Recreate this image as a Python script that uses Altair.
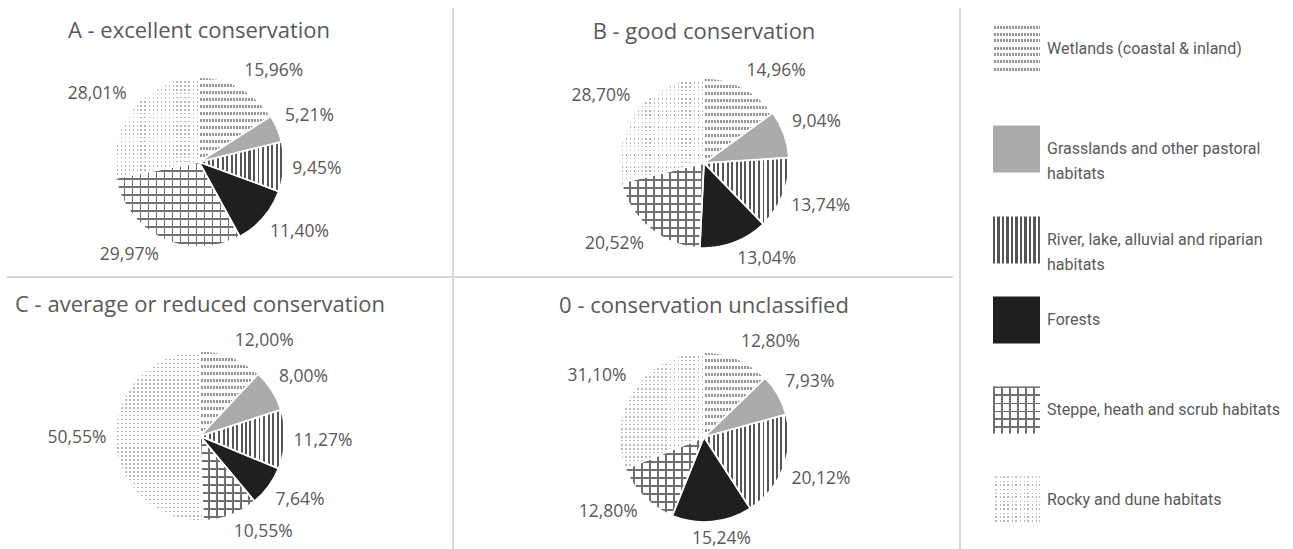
import math
import textwrap

import altair as alt
import pandas as pd

# ---------------------------------------------------------------- data
habitats = [
    "Wetlands (coastal & inland)",
    "Grasslands and other pastoral habitats",
    "River, lake, alluvial and riparian habitats",
    "Forests",
    "Steppe, heath and scrub habitats",
    "Rocky and dune habitats",
]
panel_titles = [
    "A - excellent conservation",
    "B - good conservation",
    "C - average or reduced conservation",
    "0 - conservation unclassified",
]
share_a = [15.96, 5.21, 9.45, 11.40, 29.97, 28.01]
share_b = [14.96, 9.04, 13.74, 13.04, 20.52, 28.70]
share_c = [12.00, 8.00, 11.27, 7.64, 10.55, 50.55]
share_0 = [12.80, 7.93, 20.12, 15.24, 12.80, 31.10]
shares = [share_a, share_b, share_c, share_0]

# ---------------------------------------------------------------- layout / style
W, H = 1293, 549
PIE_R = 85
LABEL_GAP = 8
pie_centres = [(199, 162), (704, 163), (200, 436), (704, 437)]
TITLE_RAISE = 131
TEXT = "#595959"
GRID = "#d9d9d9"
FONT = "Open Sans"
LEGEND_FONT = "Roboto"
legend_rows_y = [49, 149, 240, 320, 410, 500]
SWATCH_X0, SWATCH_X1, SWATCH_H = 993, 1040, 47
LEGEND_TEXT_X = 1047
separators = [(453, 8, 453, 549), (960, 8, 960, 549), (7, 277, 953, 277)]

CLEAR = "rgba(255,255,255,0)"


def stripes(span, period, width, colour, gap=CLEAR):
    """Hard-edged repeating bands along a gradient running over `span` px."""
    span = max(span, 1.0)
    stops = [{"offset": 0, "color": gap}]
    x = 0.0
    while x < span:
        a = round(x / span, 5)
        b = round(min(x + width, span) / span, 5)
        stops += [
            {"offset": a, "color": gap},
            {"offset": a, "color": colour},
            {"offset": b, "color": colour},
            {"offset": b, "color": gap},
        ]
        x += period
    stops.append({"offset": 1, "color": gap})
    return stops


def across(stops):  # bands stacked left-to-right -> vertical lines
    return {"gradient": "linear", "x1": 0, "y1": 0, "x2": 1, "y2": 0, "stops": stops}


def down(stops):  # bands stacked top-to-bottom -> horizontal lines
    return {"gradient": "linear", "x1": 0, "y1": 0, "x2": 0, "y2": 1, "stops": stops}


def fills(kind, w, h):
    """Fill layers painted over a white base for each habitat."""
    if kind == 0:  # wetlands: rows of short hatching
        return [down(stripes(h, 7, 3, "#969696")), across(stripes(w, 3, 1, "#ffffff"))]
    if kind == 1:  # grasslands: flat grey
        return ["#ababab"]
    if kind == 2:  # rivers: vertical lines
        return [across(stripes(w, 4.5, 2, "#555555"))]
    if kind == 3:  # forests: near black
        return ["#1f1f1f"]
    if kind == 4:  # steppe: square grid
        return [across(stripes(w, 8, 1.6, "#707070")), down(stripes(h, 8, 1.6, "#707070"))]
    # rocky: fine dots
    return [down(stripes(h, 4, 1.5, "#b8b8b8")), across(stripes(w, 4, 2.5, "#ffffff"))]


def slice_box(a0, a1, r):
    xs, ys = [0.0], [0.0]
    angles = [a0, a1] + [k * math.pi / 2 for k in range(5) if a0 < k * math.pi / 2 < a1]
    for a in angles:
        xs.append(r * math.sin(a))
        ys.append(-r * math.cos(a))
    return max(xs) - min(xs), max(ys) - min(ys)


# ---------------------------------------------------------------- tables
source = pd.DataFrame(
    [
        {"panel": i, "order": j, "habitat": habitats[j], "share": v}
        for i, vals in enumerate(shares)
        for j, v in enumerate(vals)
    ]
)
titles = pd.DataFrame(
    {
        "title": panel_titles,
        "tx": [c[0] for c in pie_centres],
        "ty": [c[1] - TITLE_RAISE for c in pie_centres],
    }
)
legend = pd.DataFrame(
    {
        "order": list(range(len(habitats))),
        "label": [textwrap.fill(h, 34) for h in habitats],
        "ly": legend_rows_y,
        "sy0": [y - SWATCH_H / 2 for y in legend_rows_y],
        "sy1": [y + SWATCH_H / 2 for y in legend_rows_y],
        "sx0": SWATCH_X0,
        "sx1": SWATCH_X1,
    }
)
lines = pd.DataFrame(separators, columns=["x0", "y0", "x1", "y1"])


def with_angles(i):
    return (
        alt.Chart(source)
        .transform_filter(alt.datum.panel == i)
        .transform_joinaggregate(total="sum(share)")
        .transform_window(cum="sum(share)", sort=[alt.SortField("order")], frame=[None, 0])
        .transform_calculate(t1="2*PI*datum.cum/datum.total")
        .transform_calculate(t0="2*PI*(datum.cum-datum.share)/datum.total")
    )


layers = []

# separators between the panels
layers.append(
    alt.Chart(lines)
    .mark_rule(color=GRID, strokeWidth=2)
    .encode(
        x=alt.X("x0:Q", scale=None),
        y=alt.Y("y0:Q", scale=None),
        x2="x1:Q",
        y2="y1:Q",
    )
)

for i, vals in enumerate(shares):
    cx, cy = pie_centres[i]
    total = sum(vals)
    pie_enc = dict(
        theta=alt.Theta("t0:Q", scale=None),
        theta2=alt.Theta2("t1:Q"),
        x=alt.value(cx),
        y=alt.value(cy),
    )
    # white underlay for the whole pie
    layers.append(with_angles(i).mark_arc(radius=PIE_R, fill="white").encode(**pie_enc))
    cum = 0.0
    for j, v in enumerate(vals):
        a0 = 2 * math.pi * cum / total
        cum += v
        a1 = 2 * math.pi * cum / total
        w, h = slice_box(a0, a1, PIE_R)
        for f in fills(j, w, h):
            layers.append(
                with_angles(i)
                .transform_filter(alt.datum.order == j)
                .mark_arc(radius=PIE_R)
                .encode(fill=alt.value(f), **pie_enc)
            )
    # white slice borders
    layers.append(
        with_angles(i)
        .mark_arc(radius=PIE_R, fill="white", fillOpacity=0, stroke="white", strokeWidth=1.6)
        .encode(**pie_enc)
    )
    # percentage labels just outside each slice
    r_out = PIE_R + LABEL_GAP
    layers.append(
        with_angles(i)
        .transform_calculate(mid="(datum.t0+datum.t1)/2")
        .transform_calculate(label="replace(format(datum.share, '.2f'), '.', ',') + '%'")
        .transform_calculate(hw="length(datum.label)*5")
        .transform_calculate(
            lx=f"{cx} + {r_out}*sin(datum.mid) + datum.hw*clamp(3*sin(datum.mid), -1, 1)"
        )
        .transform_calculate(
            ly=f"{cy} - {r_out}*cos(datum.mid) - 9*clamp(3*cos(datum.mid), -1, 1)"
        )
        .mark_text(font=FONT, fontSize=17.5, color=TEXT, align="center", baseline="middle")
        .encode(x=alt.X("lx:Q", scale=None), y=alt.Y("ly:Q", scale=None), text="label:N")
    )

# panel titles
layers.append(
    alt.Chart(titles)
    .mark_text(font=FONT, fontSize=22, color=TEXT, align="center", baseline="middle")
    .encode(x=alt.X("tx:Q", scale=None), y=alt.Y("ty:Q", scale=None), text="title:N")
)

# legend swatches
sw_enc = dict(
    x=alt.X("sx0:Q", scale=None),
    x2="sx1:Q",
    y=alt.Y("sy0:Q", scale=None),
    y2="sy1:Q",
)
for j in range(len(habitats)):
    base = alt.Chart(legend).transform_filter(alt.datum.order == j)
    layers.append(base.mark_rect(fill="white").encode(**sw_enc))
    for f in fills(j, SWATCH_X1 - SWATCH_X0, SWATCH_H):
        layers.append(base.mark_rect().encode(fill=alt.value(f), **sw_enc))

# legend labels
layers.append(
    alt.Chart(legend)
    .mark_text(
        font=LEGEND_FONT,
        fontSize=16,
        color=TEXT,
        align="left",
        baseline="middle",
        lineBreak="\n",
        lineHeight=25,
    )
    .encode(x=alt.value(LEGEND_TEXT_X), y=alt.Y("ly:Q", scale=None), text="label:N")
)

chart = (
    alt.layer(*layers)
    .properties(
        width=W,
        height=H,
        padding=0,
        autosize=alt.AutoSizeParams(type="none"),
        background="white",
    )
    .configure_view(stroke=None)
)

chart.save("out.html", embed_options={"renderer": "svg", "actions": False})
